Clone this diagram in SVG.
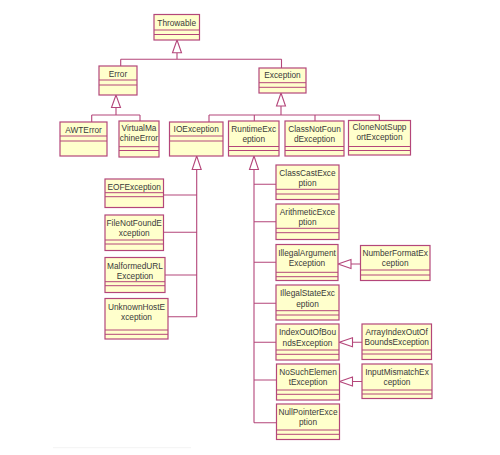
<svg xmlns="http://www.w3.org/2000/svg" width="500" height="455" viewBox="0 0 500 455">
<style>
.b{fill:#ffffcc;stroke:#b4467a;stroke-width:1.2}
.d{stroke:#b4467a;stroke-width:1}
.t{font-family:"Liberation Sans",Arial,sans-serif;font-size:8.3px;fill:#3a3a3a;text-anchor:middle}
.c{fill:none;stroke:#b4467a;stroke-width:1.1}
.h{fill:#fff;stroke:#b4467a;stroke-width:1.1}
</style>
<rect width="500" height="455" fill="#fff"/>
<g id="connectors">
<path class="c" d="M177,52.7V59.3M120.7,59.3H281.5M120.7,59.3V66M281.5,59.3V68"/>
<polygon class="h" points="177,40 172.5,52.7 181.5,52.7"/>
<path class="c" d="M116,107.5V115M91.7,115H140M91.7,115V122M140,115V121"/>
<polygon class="h" points="116,95 111.5,107.5 120.5,107.5"/>
<path class="c" d="M281,106V115M209,115H379.3M209,115V122M254.3,115V121M315,115V121M379.3,115V120.5"/>
<polygon class="h" points="281,93 276.5,106 285.5,106"/>
<path class="c" d="M196.7,169.5V316.7M163.5,195H196.7M163.5,232.3H196.7M165,275H196.7M168,316.7H196.7"/>
<polygon class="h" points="196.7,156 192.2,169.5 201.2,169.5"/>
<path class="c" d="M254,169.5V422.7M254,184.3H276M254,221.7H276M254,262.3H276M254,303.3H276M254,342.3H276M254,380H276.5M254,422.7H276.5"/>
<polygon class="h" points="254,156 249.5,169.5 258.5,169.5"/>
<path class="c" d="M351,264H360.5M352.5,342.3H362M352.5,381.5H362"/>
<polygon class="h" points="338,264 351,259.5 351,268.5"/>
<polygon class="h" points="339.3,342.3 352.5,337.8 352.5,346.8"/>
<polygon class="h" points="339.5,381.5 352.5,377 352.5,386"/>
</g>
<g id="Throwable"><rect class="b" x="154" y="14.5" width="45.5" height="25.5"/><path class="d" d="M154,30H199.5M154,34.5H199.5"/><text class="t" x="176.7" y="26">Throwable</text></g>
<g id="Error"><rect class="b" x="99" y="66" width="38" height="29"/><path class="d" d="M99,80H137M99,85H137"/><text class="t" x="118" y="76.5">Error</text></g>
<g id="Exception"><rect class="b" x="259" y="68" width="47" height="25"/><path class="d" d="M259,82.7H306M259,87.3H306"/><text class="t" x="282.5" y="78">Exception</text></g>
<g id="AWTError"><rect class="b" x="60" y="122" width="47" height="34"/><path class="d" d="M60,136H107M60,141H107"/><text class="t" x="83.5" y="133">AWTError</text></g>
<g id="VirtualMachineError"><rect class="b" x="119" y="121" width="40" height="36"/><path class="d" d="M119,146.7H159M119,150.5H159"/><text class="t" x="139" y="131">VirtualMa</text><text class="t" x="139" y="141">chineError</text></g>
<g id="IOException"><rect class="b" x="169.5" y="122" width="53.5" height="34"/><path class="d" d="M169.5,136H223M169.5,141H223"/><text class="t" x="196.2" y="132">IOException</text></g>
<g id="RuntimeException"><rect class="b" x="228.5" y="121" width="50.5" height="35"/><path class="d" d="M228.5,146.5H279M228.5,150.5H279"/><text class="t" x="253.7" y="132">RuntimeExc</text><text class="t" x="253.7" y="142">eption</text></g>
<g id="ClassNotFoundException"><rect class="b" x="285" y="121" width="59" height="35"/><path class="d" d="M285,146.5H344M285,150.5H344"/><text class="t" x="314.5" y="132">ClassNotFoun</text><text class="t" x="314.5" y="142">dException</text></g>
<g id="CloneNotSupportedException"><rect class="b" x="348.5" y="120.5" width="62" height="34.5"/><path class="d" d="M348.5,146.5H410.5M348.5,150.5H410.5"/><text class="t" x="379.5" y="130">CloneNotSupp</text><text class="t" x="379.5" y="140">ortException</text></g>
<g id="EOFException"><rect class="b" x="105" y="179" width="58.5" height="28.5"/><path class="d" d="M105,192.7H163.5M105,196.7H163.5"/><text class="t" x="134.2" y="189.5">EOFException</text></g>
<g id="FileNotFoundException"><rect class="b" x="105" y="215" width="58.5" height="35.5"/><path class="d" d="M105,240H163.5M105,244H163.5"/><text class="t" x="134.2" y="226">FileNotFoundE</text><text class="t" x="134.2" y="236">xception</text></g>
<g id="MalformedURLException"><rect class="b" x="105" y="257.5" width="60" height="35"/><path class="d" d="M105,281.7H165M105,285.7H165"/><text class="t" x="135" y="268.5">MalformedURL</text><text class="t" x="135" y="278.5">Exception</text></g>
<g id="UnknownHostException"><rect class="b" x="105" y="298.5" width="63" height="40.5"/><path class="d" d="M105,330H168M105,334.3H168"/><text class="t" x="136.5" y="310">UnknownHostE</text><text class="t" x="136.5" y="320">xception</text></g>
<g id="ClassCastException"><rect class="b" x="276" y="165" width="63" height="34.5"/><path class="d" d="M276,189.3H339M276,194H339"/><text class="t" x="307.5" y="176">ClassCastExce</text><text class="t" x="307.5" y="186">ption</text></g>
<g id="ArithmeticException"><rect class="b" x="276" y="204" width="63" height="35.5"/><path class="d" d="M276,228.3H339M276,232.7H339"/><text class="t" x="307.5" y="214.5">ArithmeticExce</text><text class="t" x="307.5" y="225">ption</text></g>
<g id="IllegalArgumentException"><rect class="b" x="276" y="244.5" width="62" height="36"/><path class="d" d="M276,272.3H338M276,276.7H338"/><text class="t" x="307" y="255.5">IllegalArgument</text><text class="t" x="307" y="265.5">Exception</text></g>
<g id="IllegalStateException"><rect class="b" x="276" y="285" width="63" height="35"/><path class="d" d="M276,310.7H339M276,315H339"/><text class="t" x="307.5" y="296">IllegalStateExc</text><text class="t" x="307.5" y="306.5">eption</text></g>
<g id="IndexOutOfBoundsException"><rect class="b" x="276" y="324" width="63" height="36"/><path class="d" d="M276,350H339M276,354.3H339"/><text class="t" x="307.5" y="335">IndexOutOfBou</text><text class="t" x="307.5" y="345.5">ndsException</text></g>
<g id="NoSuchElementException"><rect class="b" x="276.5" y="364" width="63" height="36"/><path class="d" d="M276.5,390H339.5M276.5,394.3H339.5"/><text class="t" x="308" y="374.5">NoSuchElemen</text><text class="t" x="308" y="384.5">tException</text></g>
<g id="NullPointerException"><rect class="b" x="276.5" y="404" width="63" height="35.5"/><path class="d" d="M276.5,430H339.5M276.5,434.3H339.5"/><text class="t" x="308" y="414.5">NullPointerExce</text><text class="t" x="308" y="425">ption</text></g>
<g id="NumberFormatException"><rect class="b" x="360.5" y="245.5" width="69.5" height="35"/><path class="d" d="M360.5,270H430M360.5,275H430"/><text class="t" x="395.2" y="255.5">NumberFormatEx</text><text class="t" x="395.2" y="266">ception</text></g>
<g id="ArrayIndexOutOfBoundsException"><rect class="b" x="362" y="324" width="69.5" height="35.5"/><path class="d" d="M362,350H431.5M362,354H431.5"/><text class="t" x="396.7" y="335">ArrayIndexOutOf</text><text class="t" x="396.7" y="345">BoundsException</text></g>
<g id="InputMismatchException"><rect class="b" x="362" y="364" width="70" height="34.5"/><path class="d" d="M362,390H432M362,394H432"/><text class="t" x="397" y="374.5">InputMismatchEx</text><text class="t" x="397" y="385">ception</text></g>
<line x1="53" y1="447.7" x2="191" y2="447.7" stroke="#f3f3f3" stroke-width="1"/>
</svg>
